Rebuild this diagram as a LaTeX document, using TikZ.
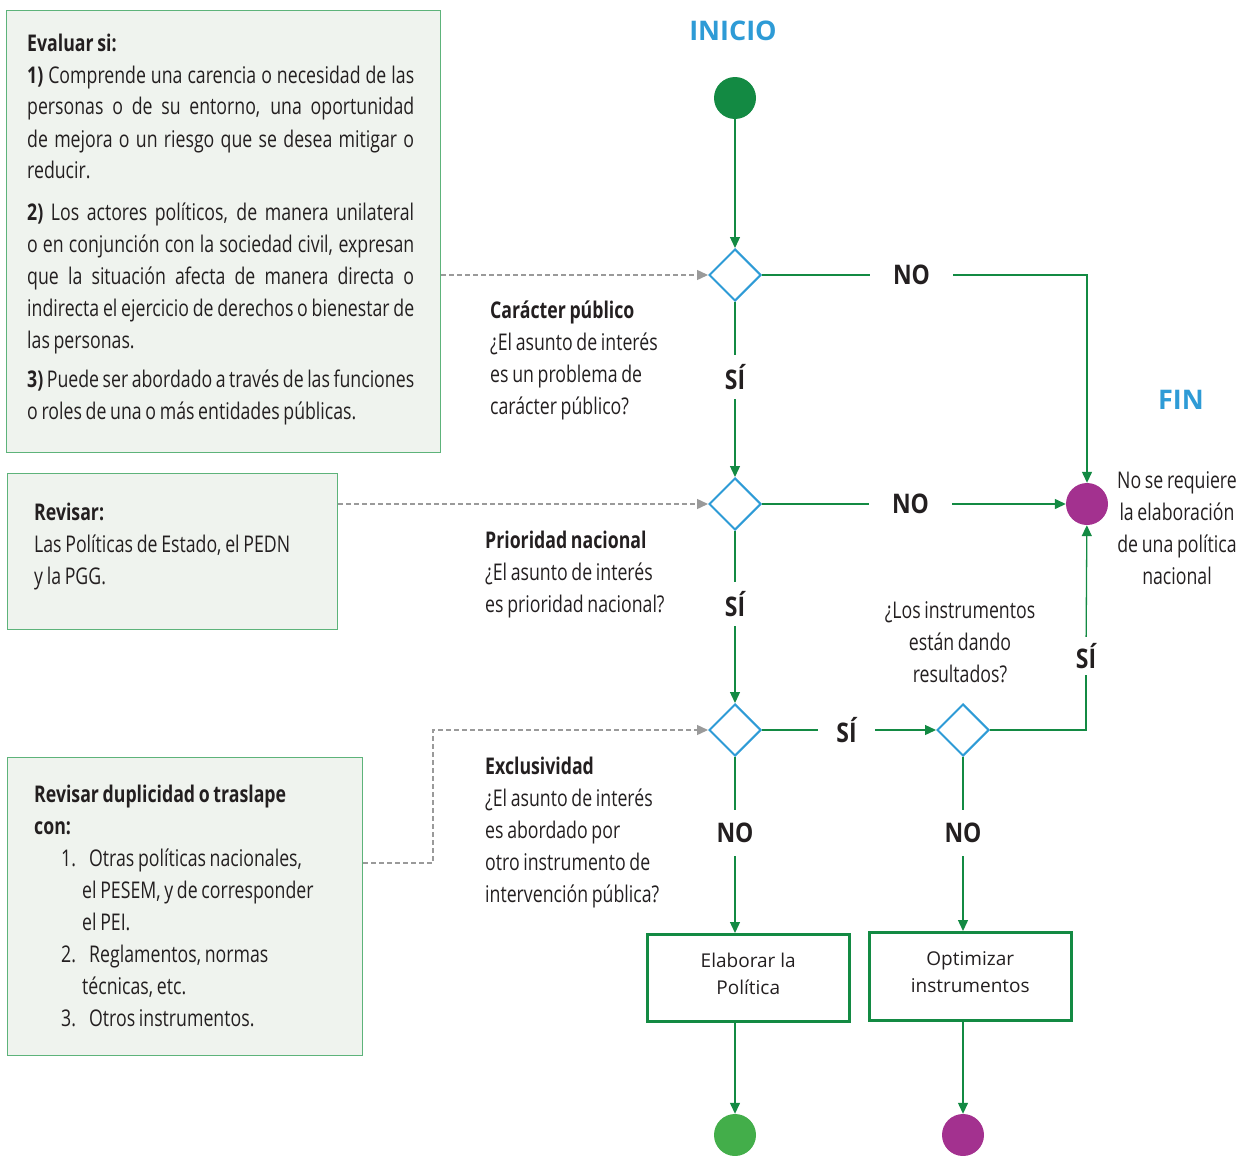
\documentclass[tikz,border=0pt]{standalone}
\usepackage{fontspec}
\setmainfont{Open Sans}[FakeStretch=0.77,WordSpace=0.8]
\newfontfamily\semi{Open Sans}[FakeStretch=0.85]
\newfontfamily\wide{Open Sans}
\usetikzlibrary{arrows.meta,shapes.geometric}
\definecolor{flowblue}{HTML}{2E9BD6}
\definecolor{dkgreen}{HTML}{138A43}
\definecolor{ltgreen}{HTML}{43AE4A}
\definecolor{panelline}{HTML}{5DB37A}
\definecolor{panelfill}{HTML}{EFF3EE}
\definecolor{endpurple}{HTML}{A3318F}
\definecolor{refgray}{HTML}{9A9A9A}
\definecolor{ink}{HTML}{231F20}
\begin{document}
\begin{tikzpicture}[x=1pt,y=-1pt,
  panel/.style={draw=panelline, fill=panelfill, line width=1.3pt, anchor=north west, inner sep=0pt},
  actbox/.style={draw=dkgreen, line width=2.5pt, anchor=north west, inner sep=0pt, align=center,
     font=\wide\fontsize{19}{27}\selectfont, text=ink},
  decision/.style={diamond, aspect=1, draw=flowblue, line width=2pt, minimum width=52pt, minimum height=52pt, inner sep=0pt},
  dot/.style={circle, minimum size=42pt, inner sep=0pt},
  flow/.style={draw=dkgreen, line width=1.3pt},
  arr/.style={flow, -{Triangle[length=11pt,width=10pt]}},
  refline/.style={draw=refgray, line width=1.4pt, dash pattern=on 5pt off 3pt, -{Triangle[length=11pt,width=10pt]}},
  yn/.style={font=\semi\bfseries\fontsize{27}{30}\selectfont, text=ink, inner sep=0pt, minimum width=60pt, minimum height=44pt},
  body/.style={font=\fontsize{23}{32}\selectfont, text=ink, inner sep=0pt, anchor=base west},
  bodyc/.style={font=\fontsize{23}{32}\selectfont, text=ink, inner sep=0pt, anchor=base, align=center},
  ttl/.style={font=\wide\bfseries\fontsize{27}{30}\selectfont, text=flowblue, inner sep=0pt}
]
\useasboundingbox (0,0) rectangle (1247,1156);

% panels
\node[panel, minimum width=434pt, minimum height=442pt] (ev) at (6,10) {};
\node[panel, minimum width=330pt, minimum height=156pt] (rev) at (7,473) {};
\node[panel, minimum width=355pt, minimum height=298pt] (dup) at (7,757) {};

% panel 1 text
\node[body] (evt) at (27,52) {\bfseries Evaluar si:};
\node[body] (ev1) at (27,83) {\parbox[t]{387pt}{%
\makebox[\linewidth][s]{\textbf{1)} Comprende una carencia o necesidad de las}\\
\makebox[\linewidth][s]{personas o de su entorno, una oportunidad}\\
\makebox[\linewidth][s]{de mejora o un riesgo que se desea mitigar o}\\
reducir.}};
\node[body] (ev2) at (27,220) {\parbox[t]{387pt}{%
\makebox[\linewidth][s]{\textbf{2)} Los actores políticos, de manera unilateral}\\
\makebox[\linewidth][s]{o en conjunción con la sociedad civil, expresan}\\
\makebox[\linewidth][s]{que la situación afecta de manera directa o}\\
\makebox[\linewidth][s]{indirecta el ejercicio de derechos o bienestar de}\\
las personas.}};
\node[body] (ev3) at (27,387) {\parbox[t]{387pt}{%
\makebox[\linewidth][s]{\textbf{3)} Puede ser abordado a través de las funciones}\\
o roles de una o más entidades públicas.}};

% panel 2 text
\node[body] (revt) at (34,520) {\parbox[t]{290pt}{\textbf{Revisar:}\\
Las Políticas de Estado, el PEDN\\
y la PGG.}};

% panel 3 text
\node[body] (dupt) at (34,802) {\parbox[t]{310pt}{\textbf{Revisar duplicidad o traslape}\\
\textbf{con:}}};
\node[body] (dupl) at (61,866) {\parbox[t]{290pt}{%
\makebox[28pt][l]{1.}Otras políticas nacionales,\\
\hspace*{21pt}el PESEM, y de corresponder\\
\hspace*{21pt}el PEI.\\
\makebox[28pt][l]{2.}Reglamentos, normas\\
\hspace*{21pt}técnicas, etc.\\
\makebox[28pt][l]{3.}Otros instrumentos.}};

% titles
\node[ttl] (inicio) at (733,31) {INICIO};
\node[ttl] (fintxt) at (1181,400) {FIN};

% flow nodes
\node[dot, fill=dkgreen] (start) at (735,98) {};
\node[decision] (d1) at (735,275) {};
\node[decision] (d2) at (735,504) {};
\node[decision] (d3) at (735,730) {};
\node[decision] (d4) at (963,730) {};
\node[dot, fill=endpurple] (fin) at (1087,504) {};
\node[actbox, minimum width=202pt, minimum height=87pt] (elab) at (646,933) {Elaborar la\\Política\\[-19pt]};
\node[actbox, minimum width=202pt, minimum height=88pt] (opt) at (868,931) {Optimizar\\instrumentos\\[-19pt]};
\node[dot, fill=ltgreen] (endg) at (735,1135) {};
\node[dot, fill=endpurple] (endp) at (963,1135) {};

% yes/no labels
\node[yn, minimum width=83pt] (no1) at (911.5,275) {NO};
\node[yn] (si1) at (735,377) {SÍ};
\node[yn, minimum width=83pt] (no2) at (910.5,504) {NO};
\node[yn] (si2) at (735,604) {SÍ};
\node[yn, minimum width=57pt] (si3) at (846.5,730) {SÍ};
\node[yn, minimum height=46pt] (no3) at (735,833) {NO};
\node[yn, minimum height=46pt] (no4) at (963,833) {NO};
\node[yn, minimum height=38pt] (si4) at (1086,656) {SÍ};

% question texts
\node[body] (q1) at (490,318) {\parbox[t]{200pt}{\textbf{Carácter público}\\
¿El asunto de interés\\
es un problema de\\
carácter público?}};
\node[body] (q2) at (485,548) {\parbox[t]{200pt}{\textbf{Prioridad nacional}\\
¿El asunto de interés\\
es prioridad nacional?}};
\node[body] (q3) at (485,774) {\parbox[t]{200pt}{\textbf{Exclusividad}\\
¿El asunto de interés\\
es abordado por\\
otro instrumento de\\
intervención pública?}};
\node[bodyc] (q4) at (960,682) {¿Los instrumentos\\están dando\\resultados?};
\node[bodyc] (fino) at (1177,584) {No se requiere\\la elaboración\\de una política\\nacional};

% connectors
\draw[arr] (start) -- (d1);
\draw[flow] (d1) -- (no1);
\draw[arr] (no1) -| (fin);
\draw[flow] (d1) -- (si1);
\draw[arr] (si1) -- (d2);
\draw[flow] (d2) -- (no2);
\draw[arr] (no2) -- (fin);
\draw[flow] (d2) -- (si2);
\draw[arr] (si2) -- (d3);
\draw[flow] (d3) -- (si3);
\draw[arr] (si3) -- (d4);
\draw[flow] (d4) -| (si4);
\draw[arr] (si4) -- (fin);
\draw[flow] (d3) -- (no3);
\draw[arr] (no3) -- (no3 |- elab.north);
\draw[flow] (d4) -- (no4);
\draw[arr] (no4) -- (no4 |- opt.north);
\draw[arr] (elab.south -| endg) -- (endg);
\draw[arr] (opt.south -| endp) -- (endp);

% reference (dashed) connectors
\draw[refline] (ev.east |- d1) -- (d1);
\draw[refline] (rev.east |- d2) -- (d2);
\coordinate (bend) at (433,863);
\draw[refline] (dup.east |- bend) -- (bend) |- (d3);
\end{tikzpicture}
\end{document}
